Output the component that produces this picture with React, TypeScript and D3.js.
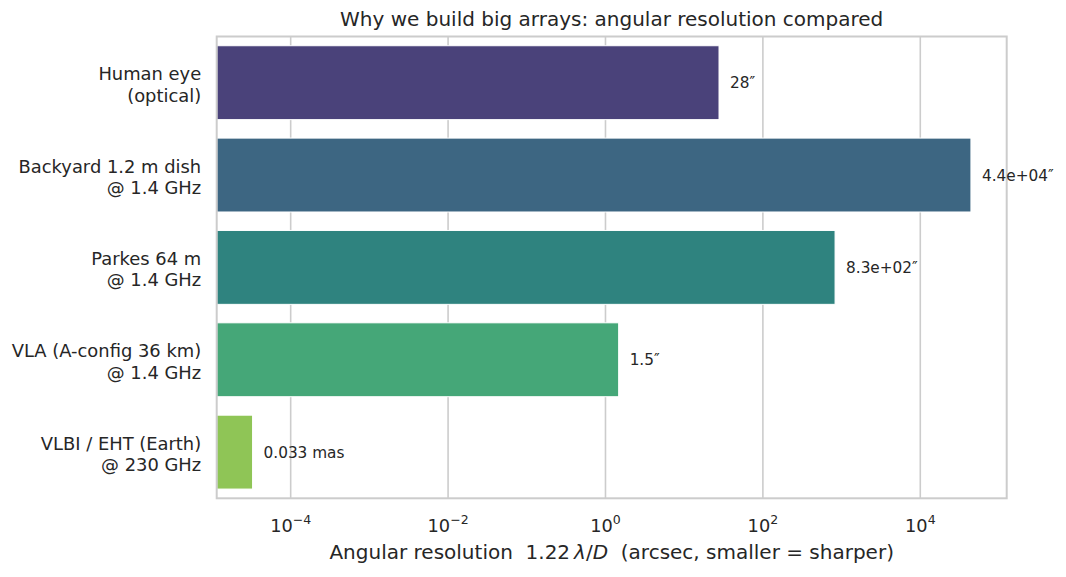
import React, {useEffect, useRef} from "react";
import {hsl, interpolateViridis, scaleBand, scaleLog, select} from "d3";

// instruments, top to bottom (two label lines each)
const instruments = [
    ["Human eye", "(optical)"],
    ["Backyard 1.2 m dish", "@ 1.4 GHz"],
    ["Parkes 64 m", "@ 1.4 GHz"],
    ["VLA (A-config 36 km)", "@ 1.4 GHz"],
    ["VLBI / EHT (Earth)", "@ 230 GHz"],
];
// angular resolution in arcsec
const resolutionArcsec = [27.7, 44000, 826, 1.47, 3.28e-5];
const valueLabels = ["28\u2033", "4.4e+04\u2033", "8.3e+02\u2033", "1.5\u2033", "0.033 mas"];
const xTicks = [1e-4, 1e-2, 1, 1e2, 1e4];
const xTickExponents = ["\u22124", "\u22122", "0", "2", "4"];
const xLimits = [Math.pow(10, -4.94), Math.pow(10, 5.098)];

const W = 1066;
const H = 577;
const margin = {top: 36.5, right: 59.3, bottom: 78.7, left: 216.7};
const FONT = "DejaVu Sans, sans-serif";
const TEXT = "#262626";
const GRID = "#cccccc";

function App() {
    const svgRef = useRef(null);

    useEffect(() => {
        const svg = select(svgRef.current);
        svg.selectAll("*").remove();

        const x0 = margin.left, x1 = W - margin.right;
        const y0 = margin.top, y1 = H - margin.bottom;

        const xScale = scaleLog().domain(xLimits).range([x0, x1]);
        // bars 0.8 of each category slot, like matplotlib
        const yScale = scaleBand()
            .domain(instruments.map((d, i) => String(i)))
            .range([y0, y1])
            .paddingInner(0.2)
            .paddingOuter(0.1);
        const bandCenter = i => yScale(String(i)) + yScale.bandwidth() / 2;

        // viridis, seaborn style (desaturated 0.75)
        const colors = instruments.map((d, i) => {
            const c = hsl(interpolateViridis((i + 1) / (instruments.length + 1)));
            c.s *= 0.75;
            return c.formatHex();
        });

        // grid
        svg.append("g")
            .selectAll("line")
            .data(xTicks)
            .join("line")
            .attr("x1", d => xScale(d))
            .attr("x2", d => xScale(d))
            .attr("y1", y0)
            .attr("y2", y1)
            .attr("stroke", GRID)
            .attr("stroke-width", 1.6);

        // bars
        svg.append("g")
            .selectAll("rect")
            .data(resolutionArcsec)
            .join("rect")
            .attr("x", x0)
            .attr("y", (d, i) => yScale(String(i)))
            .attr("width", d => xScale(d) - x0)
            .attr("height", yScale.bandwidth())
            .attr("fill", (d, i) => colors[i])
            .attr("stroke", "#ffffff")
            .attr("stroke-width", 1);

        // frame
        svg.append("rect")
            .attr("x", x0)
            .attr("y", y0)
            .attr("width", x1 - x0)
            .attr("height", y1 - y0)
            .attr("fill", "none")
            .attr("stroke", GRID)
            .attr("stroke-width", 2);

        // value labels
        svg.append("g")
            .selectAll("text")
            .data(resolutionArcsec)
            .join("text")
            .attr("x", d => xScale(d) + 11)
            .attr("y", (d, i) => bandCenter(i) + 5.5)
            .attr("font-family", FONT)
            .attr("font-size", 15.3)
            .attr("fill", TEXT)
            .text((d, i) => valueLabels[i]);

        // y tick labels
        const yLabels = svg.append("g")
            .selectAll("text")
            .data(instruments)
            .join("text")
            .attr("text-anchor", "end")
            .attr("font-family", FONT)
            .attr("font-size", 17.9)
            .attr("fill", TEXT);
        yLabels.append("tspan")
            .attr("x", x0 - 15.5)
            .attr("y", (d, i) => bandCenter(i) - 2.5)
            .text(d => d[0]);
        yLabels.append("tspan")
            .attr("x", x0 - 15.5)
            .attr("y", (d, i) => bandCenter(i) + 18.9)
            .text(d => d[1]);

        // x tick labels (10^n)
        const xLabels = svg.append("g")
            .selectAll("text")
            .data(xTicks)
            .join("text")
            .attr("x", d => xScale(d))
            .attr("y", y1 + 33.3)
            .attr("text-anchor", "middle")
            .attr("font-family", FONT)
            .attr("font-size", 17.8)
            .attr("fill", TEXT);
        xLabels.append("tspan").text("10");
        xLabels.append("tspan")
            .attr("font-size", 12.5)
            .attr("dy", -7.5)
            .text((d, i) => xTickExponents[i]);

        // x axis label
        const xTitle = svg.append("text")
            .attr("x", (x0 + x1) / 2)
            .attr("y", 559)
            .attr("text-anchor", "middle")
            .attr("font-family", FONT)
            .attr("font-size", 20)
            .attr("fill", TEXT)
            .style("white-space", "pre");
        xTitle.append("tspan").text("Angular resolution  1.22\u2009");
        xTitle.append("tspan").attr("font-style", "italic").text("\u03bb");
        xTitle.append("tspan").text("/");
        xTitle.append("tspan").attr("font-style", "italic").text("D");
        xTitle.append("tspan").text("  (arcsec, smaller = sharper)");

        // title
        svg.append("text")
            .attr("x", (x0 + x1) / 2)
            .attr("y", 26)
            .attr("text-anchor", "middle")
            .attr("font-family", FONT)
            .attr("font-size", 20)
            .attr("fill", TEXT)
            .text("Why we build big arrays: angular resolution compared");
    }, []);

    return (
        <svg ref={svgRef} width={W} height={H}
             style={{position: "absolute", left: 0, top: 0, background: "#ffffff"}}/>
    );
}

export default App;
